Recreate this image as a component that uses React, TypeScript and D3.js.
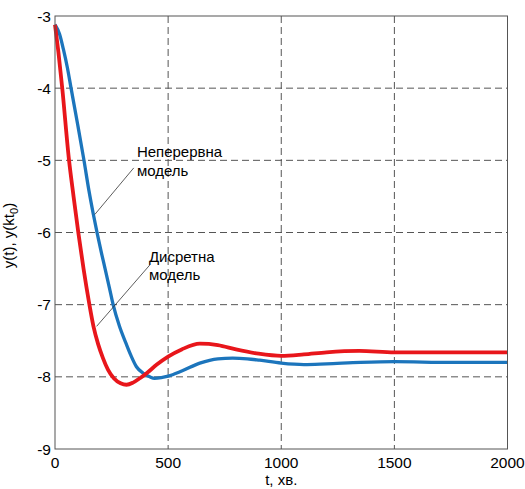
import * as d3 from 'd3';

const WIDTH = 525;
const HEIGHT = 489;
const MARGIN = { top: 16, right: 17.5, bottom: 40, left: 55 };

// Time grid (хв.) and the two model responses
const CONT_T = [0, 20, 37, 55, 71, 100, 128, 150, 169, 187, 205, 222, 240, 257, 285, 313, 335, 360, 390, 419, 440, 470, 500, 560, 640, 720, 785, 850, 905, 1000, 1100, 1200, 1350, 1500, 1750, 2000];
const CONT_Y = [-3.12, -3.25, -3.46, -3.72, -4.0, -4.5, -5.0, -5.42, -5.74, -6.02, -6.28, -6.51, -6.76, -7.0, -7.3, -7.53, -7.7, -7.86, -7.95, -8.0, -8.02, -8.01, -7.99, -7.92, -7.81, -7.75, -7.74, -7.75, -7.77, -7.81, -7.83, -7.82, -7.8, -7.79, -7.8, -7.8];

const DISC_T = [0, 15, 32, 62, 82, 103, 126, 151, 170, 191, 212, 234, 260, 290, 316, 345, 375, 405, 450, 500, 560, 640, 720, 800, 900, 1000, 1100, 1200, 1345, 1500, 1750, 2000];
const DISC_Y = [-3.12, -3.5, -4.0, -5.0, -5.5, -6.0, -6.5, -6.98, -7.3, -7.55, -7.74, -7.9, -8.02, -8.09, -8.11, -8.08, -8.02, -7.95, -7.83, -7.72, -7.62, -7.54, -7.56, -7.62, -7.68, -7.71, -7.69, -7.66, -7.64, -7.66, -7.66, -7.66];

const X_TICKS = [0, 500, 1000, 1500, 2000];
const Y_TICKS = [-3, -4, -5, -6, -7, -8, -9];

const FONT = 'Arial, "Liberation Sans", sans-serif';

export default function App() {
  const w = WIDTH - MARGIN.left - MARGIN.right;
  const h = HEIGHT - MARGIN.top - MARGIN.bottom;

  const x = d3.scaleLinear().domain([0, 2000]).range([0, w]);
  const y = d3.scaleLinear().domain([-9, -3]).range([h, 0]);

  const line = d3
    .line<[number, number]>()
    .x((d) => x(d[0]))
    .y((d) => y(d[1]))
    .curve(d3.curveMonotoneX);

  const cont = CONT_T.map((t, i) => [t, CONT_Y[i]] as [number, number]);
  const disc = DISC_T.map((t, i) => [t, DISC_Y[i]] as [number, number]);

  return (
    <svg
      width={WIDTH}
      height={HEIGHT}
      style={{ position: 'absolute', left: 0, top: 0, background: '#fff' }}
    >
      <g transform={`translate(${MARGIN.left},${MARGIN.top})`}>
        {/* grid */}
        {X_TICKS.slice(1, -1).map((t) => (
          <line key={'gx' + t} x1={x(t)} x2={x(t)} y1={0} y2={h} stroke="#555" strokeWidth={1} strokeDasharray="7,4" />
        ))}
        {Y_TICKS.slice(1, -1).map((v) => (
          <line key={'gy' + v} x1={0} x2={w} y1={y(v)} y2={y(v)} stroke="#555" strokeWidth={1} strokeDasharray="7,4" />
        ))}

        {/* curves: continuous under discrete */}
        <path d={line(cont) || ''} fill="none" stroke="#1c75bc" strokeWidth={3.3} />
        <path d={line(disc) || ''} fill="none" stroke="#e8161b" strokeWidth={3.8} />

        {/* frame */}
        <rect x={0} y={0} width={w} height={h} fill="none" stroke="#555" strokeWidth={1} />

        {/* tick labels */}
        {Y_TICKS.map((v) => (
          <text key={'ty' + v} x={-4} y={y(v)} dy="0.36em" textAnchor="end" fontFamily={FONT} fontSize={15.5} fill="#000">
            {v}
          </text>
        ))}
        {X_TICKS.map((t) => (
          <text key={'tx' + t} x={x(t)} y={h + 19} textAnchor="middle" fontFamily={FONT} fontSize={15.5} fill="#000">
            {t}
          </text>
        ))}

        {/* axis titles */}
        <text x={w / 2} y={h + 36} textAnchor="middle" fontFamily={FONT} fontSize={15} fill="#000">
          t, хв.
        </text>
        <text
          transform={`translate(${-41},${h / 2 + 3}) rotate(-90)`}
          textAnchor="middle"
          fontFamily={FONT}
          fontSize={15}
          fill="#000"
        >
          y(t), y(kt<tspan fontSize={11} dy={4}>0</tspan><tspan dy={-4}>)</tspan>
        </text>

        {/* annotations */}
        <line x1={x(348)} y1={y(-5.105)} x2={x(176)} y2={y(-5.75)} stroke="#333" strokeWidth={0.8} />
        <text x={x(362)} y={y(-4.95)} fontFamily={FONT} fontSize={15} fill="#000">Неперервна</text>
        <text x={x(362)} y={y(-5.215)} fontFamily={FONT} fontSize={15} fill="#000">модель</text>

        <line x1={x(419)} y1={y(-6.45)} x2={x(184)} y2={y(-7.3)} stroke="#333" strokeWidth={0.8} />
        <text x={x(415)} y={y(-6.41)} fontFamily={FONT} fontSize={15} fill="#000">Дисретна</text>
        <text x={x(415)} y={y(-6.66)} fontFamily={FONT} fontSize={15} fill="#000">модель</text>
      </g>
    </svg>
  );
}
